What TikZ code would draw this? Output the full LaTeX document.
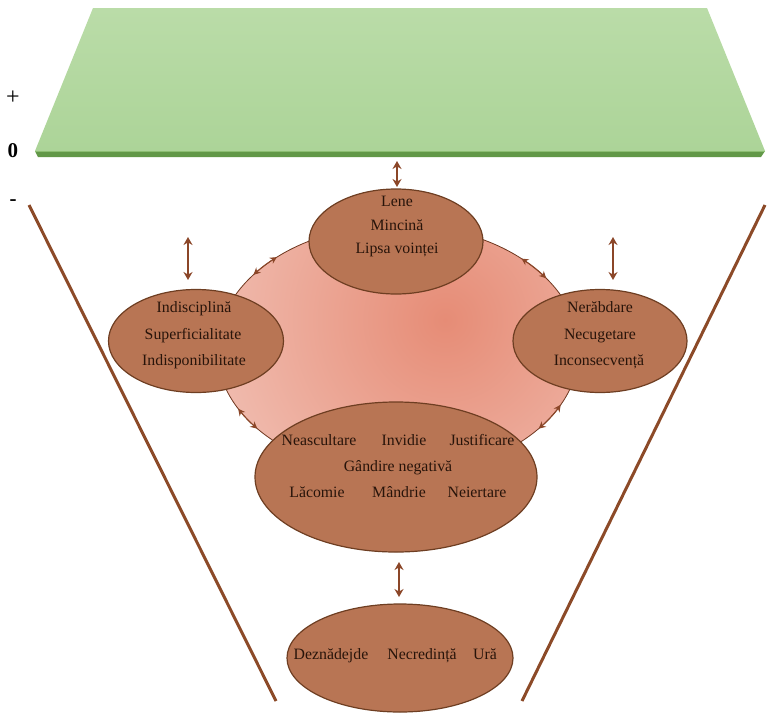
\documentclass[tikz,border=0pt]{standalone}
\usepackage{fontspec}
\setmainfont{Liberation Serif}
\usetikzlibrary{arrows.meta,shapes.geometric}
\definecolor{ebrown}{RGB}{184,117,84}
\definecolor{eborder}{RGB}{110,62,34}
\definecolor{etext}{RGB}{40,20,10}
\definecolor{abrown}{RGB}{139,70,40}
\definecolor{fbrown}{RGB}{140,74,40}
\definecolor{salmon}{RGB}{230,140,118}
\definecolor{lightpink}{RGB}{250,234,230}
\definecolor{gtop}{RGB}{186,220,168}
\definecolor{gmid}{RGB}{234,244,228}
\definecolor{gbot}{RGB}{172,212,152}
\definecolor{gstrip}{RGB}{98,152,72}
\definecolor{gline}{RGB}{140,190,114}
\begin{document}
\begin{tikzpicture}[x=1pt,y=-1pt,
  ell/.style={ellipse,draw=eborder,line width=1.2pt,fill=ebrown,inner sep=0pt},
  txt/.style={text=etext,font=\fontsize{15.8}{18}\selectfont,inner sep=0pt,text height=1.5ex,text depth=.25ex},
  sign/.style={text=black,font=\bfseries\fontsize{21}{21}\selectfont,inner sep=0pt},
  dbl/.style={abrown,line width=1.6pt,{Stealth[length=8pt,width=9pt]}-{Stealth[length=8pt,width=9pt]}},
  arcarrow/.style={abrown,line width=1pt,{Stealth[length=7pt,width=7pt]}-{Stealth[length=7pt,width=7pt]}},
  funnel/.style={fbrown,line width=3pt}
]
\useasboundingbox (0,0) rectangle (767,712);
% green plane
\shade[top color=gtop,middle color=gmid,bottom color=gbot] (93,8) -- (707,8) -- (765,151) -- (35,151) -- cycle;
\fill[gstrip] (35,151) -- (765,151) -- (761,157) -- (38,157) -- cycle;
\draw[gline,line width=0.8pt] (35,151) -- (765,151);
% signs
\node[sign,font=\fontsize{24}{24}\selectfont] (plus) at (13,98) {+};
\node[sign] (zero) at (13,151) {0};
\node[sign] (minus) at (13,203) {-};
% funnel
\coordinate (fl1) at (29,205);
\coordinate (fl2) at (276,701);
\coordinate (fr1) at (765,205);
\coordinate (fr2) at (522,701);
\draw[funnel] (fl1) -- (fl2);
\draw[funnel] (fr1) -- (fr2);
% pink ellipse
\node[ellipse,minimum width=362pt,minimum height=250pt,fill=lightpink,inner sep=0pt] (pink) at (398,350) {};
\begin{scope}
  \clip (398,350) ellipse [x radius=181, y radius=125];
  \shade[inner color=salmon,outer color=lightpink] (445,320) circle [radius=470];
\end{scope}
\draw[abrown!80!black,line width=0.8pt] (pink.center) ellipse [x radius=181, y radius=125];
% arc arrows
\draw[arcarrow] ([shift={(-143:181 and 125)}]pink.center) arc[start angle=-143,end angle=-132,x radius=181,y radius=125];
\draw[arcarrow] ([shift={(-47:181 and 125)}]pink.center) arc[start angle=-47,end angle=-35,x radius=181,y radius=125];
\draw[arcarrow] ([shift={(152:181 and 125)}]pink.center) arc[start angle=152,end angle=141,x radius=181,y radius=125];
\draw[arcarrow] ([shift={(39:181 and 125)}]pink.center) arc[start angle=39,end angle=26,x radius=181,y radius=125];
% ellipses
\node[ell,minimum width=174pt,minimum height=105pt] (top) at (396,241.5) {};
\node[ell,minimum width=175pt,minimum height=103pt] (left) at (196,341) {};
\node[ell,minimum width=174pt,minimum height=103pt] (right) at (600,341) {};
\node[ell,minimum width=282pt,minimum height=150pt] (mid) at (396,477) {};
\node[ell,minimum width=226pt,minimum height=108pt] (bot) at (400,658) {};
% vertical arrows
\coordinate (a1) at (397,161); \coordinate (a2) at (397,187);
\coordinate (b1) at (188,237); \coordinate (b2) at (188,280);
\coordinate (c1) at (613,237); \coordinate (c2) at (613,280);
\coordinate (d1) at (399,562); \coordinate (d2) at (399,597);
\draw[dbl] (a1) -- (a2);
\draw[dbl] (b1) -- (b2);
\draw[dbl] (c1) -- (c2);
\draw[dbl] (d1) -- (d2);
% texts
\node[txt] (t1) at (397,204) {Lene};
\node[txt] (t2) at (397,228) {Mincină};
\node[txt] (t3) at (397,251) {Lipsa voinței};
\node[txt] (l1) at (194,310) {Indisciplină};
\node[txt] (l2) at (193,337) {Superficialitate};
\node[txt] (l3) at (194,363) {Indisponibilitate};
\node[txt] (r1) at (600,310) {Nerăbdare};
\node[txt] (r2) at (600,337) {Necugetare};
\node[txt] (r3) at (599,363) {Inconsecvență};
\node[txt] (m1) at (319,443) {Neascultare};
\node[txt] (m2) at (404,443) {Invidie};
\node[txt] (m3) at (482,443) {Justificare};
\node[txt] (m4) at (398,469) {Gândire negativă};
\node[txt] (m5) at (317,495) {Lăcomie};
\node[txt] (m6) at (399,495) {Mândrie};
\node[txt] (m7) at (477,495) {Neiertare};
\node[txt] (b1t) at (331,657) {Deznădejde};
\node[txt] (b2t) at (422,657) {Necredință};
\node[txt] (b3t) at (485,657) {Ură};
\end{tikzpicture}
\end{document}
